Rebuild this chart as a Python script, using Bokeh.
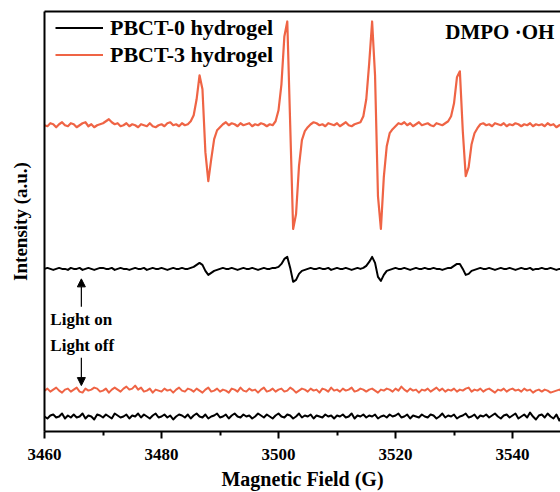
import numpy as np
from bokeh.plotting import figure
from bokeh.models import (Range1d, FixedTicker, LinearAxis, Legend, LegendItem,
                          Label, Arrow, NormalHead, ColumnDataSource)
from bokeh.embed import file_html
from bokeh.resources import INLINE

# ---------------- data ----------------
field_start = 3460.0     # G
field_step = 0.5         # G
n_points = 178
field = [field_start + field_step * i for i in range(n_points)]

# signal deviations (a.u.), one value every 0.5 G from 3460 G
pbct3_light_on = [
    0, -1, 2, 1, -2, 1, 3, 0, -1, 2,
    1, -2, 0, 2, 3, -1, 1, -2, 0, 1,
    2, 4, 6, 3, 1, 2, -1, 0, 2, -1,
    1, 0, -2, 1, 0, -1, 2, -1, -2, 0,
    1, -1, 2, 3, 0, 1, -1, 2, 0, 1,
    4, 10, 26, 50, 36, -27, -56, -34, -14, -5,
    -2, 1, 3, 0, 2, 1, -1, 2, 0, 1,
    2, -1, 1, 0, 2, 1, -1, 1, 0, 4,
    15, 41, 89, 104, 0, -104, -89, -41, -15, -6,
    -2, 1, 3, 2, 0, 1, -1, 2, 1, 0,
    2, -1, 1, 3, 0, -1, 1, 2, 3, 9,
    26, 62, 104, 50, -71, -104, -52, -21, -8, -4,
    -1, 2, 1, 3, 0, 2, -1, 1, 3, 0,
    1, 2, 0, -1, 2, 1, 0, 2, 4, 9,
    22, 48, 54, -6, -51, -42, -19, -8, -3, 1,
    2, 0, 1, -1, 2, 1, 0, 2, -1, 1,
    0, 2, 1, -1, 1, 0, 2, -1, 1, 0,
    1, -1, 2, 0, 1, -2, 0, 1,
]
pbct0_light_on = [
    0, 1, 0, -1, 0, 1, 0, 0, -1, 1,
    0, 0, 1, -1, 0, 1, 0, -1, 0, 1,
    1, 0, 0, 1, -1, 0, 1, 0, 0, -1,
    0, 1, 0, 0, 1, -1, 0, 1, 0, 0,
    1, 0, -1, 0, 1, 0, 0, 1, 0, 0,
    1, 2, 4, 6, 4, -2, -6, -4, -2, -1,
    0, 1, 0, 0, 1, 0, -1, 0, 1, 0,
    0, 1, 0, -1, 0, 1, 0, 0, 1, 1,
    2, 5, 10, 12, 1, -13, -11, -5, -2, -1,
    0, 1, 0, 0, 1, 0, 0, 1, -1, 0,
    1, 0, 0, 1, 0, -1, 0, 1, 0, 1,
    3, 7, 12, 6, -8, -12, -6, -2, -1, 0,
    1, 0, 0, 1, 0, -1, 0, 1, 0, 0,
    1, 0, 0, 1, 0, 0, -1, 0, 1, 1,
    3, 5, 5, 0, -6, -5, -2, -1, 0, 1,
    0, 0, 1, 0, -1, 0, 1, 0, 0, 1,
    0, -1, 0, 1, 0, 0, 1, -1, 0, 0,
    1, 0, 0, 1, 0, -1, 0, 0,
]
pbct3_light_off = [
    0, 2, -1, 1, 3, 0, -2, 1, 2, -1,
    1, 3, -1, -2, 2, 0, 1, 3, 2, -1,
    0, 2, -2, 1, 3, 1, -1, 2, 4, 1,
    2, 5, 1, 3, -1, 0, 2, -2, 1, 0,
    -1, 2, 0, 1, -2, 1, 3, 0, -1, 2,
    1, -1, 2, 0, -2, 1, 3, -1, 0, 2,
    -1, 1, 0, -2, 2, 1, -1, 3, 0, -1,
    2, 0, 1, -2, 1, 3, -1, 0, 2, -1,
    1, 2, -1, 0, 3, 1, -2, 0, 2, 1,
    -1, 2, 0, 1, -2, 2, 1, -1, 3, 0,
    1, -1, 2, 0, 1, 3, -1, 0, 2, 1,
    -1, 1, 2, 0, -2, 1, 0, 2, 1, -1,
    2, 0, 4, 1, -1, 2, 0, 1, -2, 1,
    0, 2, -1, 1, 3, 0, 2, -1, 1, 0,
    2, -1, 1, 0, 2, 3, -1, 1, 0, 2,
    -1, 1, 2, 0, -2, 1, 0, 2, -1, 1,
    2, 0, 1, -1, 2, 0, 1, -2, 0, 1,
    -1, 1, 0, -2, -1, 0, 1, -1,
]
pbct0_light_off = [
    0, -2, 1, 2, -1, 0, 3, -2, 1, -1,
    2, -1, 0, 3, -2, 1, 0, -3, 2, 1,
    -1, 2, 0, -2, 3, 1, -1, 0, 2, -2,
    1, 0, 3, -1, 2, 0, -2, 1, 3, -1,
    0, 2, -1, 1, -3, 0, 2, 1, -1, 2,
    -2, 1, 3, 0, -1, 2, -2, 0, 1, 3,
    -1, 0, 2, -2, 1, 3, 0, -1, 2, 0,
    1, -2, 0, 3, 1, -1, 2, 0, -2, 1,
    3, 0, -1, 2, 1, -2, 0, 3, -1, 1,
    0, 2, -2, 1, 0, -1, 2, 0, 1, -2,
    1, 0, 2, -1, 0, 3, -2, 1, 0, 2,
    -1, 1, 0, 2, -2, 0, 1, -1, 2, 0,
    1, 3, -1, 0, 2, -2, 1, 0, -1, 2,
    0, -1, 2, 1, -2, 0, 3, -1, 1, 0,
    2, -2, 0, 1, 3, -1, 0, 2, -2, 1,
    0, 2, -1, 1, 3, 0, -2, 1, 2, -1,
    1, 3, -2, 0, 2, -1, 4, 0, -3, 1,
    2, -1, 3, 0, -2, 2, -4, 1,
]

# vertical stacking offsets of the four traces
offset_pbct3_on = 307
offset_pbct0_on = 163
offset_pbct3_off = 41
offset_pbct0_off = 15

series_labels = ["PBCT-0 hydrogel", "PBCT-3 hydrogel"]
x_major_ticks = [3460, 3480, 3500, 3520, 3540]
x_minor_ticks = [3470, 3490, 3510, 3530, 3550]

ORANGE = "#EF6445"
BLACK = "#000000"
FONT = "Liberation Serif"

# ---------------- figure ----------------
p = figure(width=560, height=492, output_backend="svg", toolbar_location=None,
           x_range=Range1d(3460, 3548.2), y_range=Range1d(0, 421),
           min_border_left=44, min_border_right=0, min_border_top=11,
           min_border_bottom=60)
p.outline_line_color = None
p.grid.visible = False
p.background_fill_color = "white"
p.border_fill_color = "white"

x = np.array(field)
def src(vals, off):
    return ColumnDataSource(dict(x=x, y=np.array(vals, dtype=float) + off))

r3off = p.line("x", "y", source=src(pbct3_light_off, offset_pbct3_off),
               line_color=ORANGE, line_width=2, line_join="round")
r0off = p.line("x", "y", source=src(pbct0_light_off, offset_pbct0_off),
               line_color=BLACK, line_width=2, line_join="round")
r0on = p.line("x", "y", source=src(pbct0_light_on, offset_pbct0_on),
              line_color=BLACK, line_width=2, line_join="round")
r3on = p.line("x", "y", source=src(pbct3_light_on, offset_pbct3_on),
              line_color=ORANGE, line_width=2.2, line_join="round")

# axes
xa = p.xaxis[0]
xa.ticker = FixedTicker(ticks=x_major_ticks, minor_ticks=x_minor_ticks)
xa.axis_label = "Magnetic Field (G)"
xa.axis_label_text_font = FONT
xa.axis_label_text_font_style = "bold"
xa.axis_label_text_font_size = "20px"
xa.axis_label_text_color = "black"
xa.axis_label_text_line_height = 1.0
xa.axis_label_standoff = 5
xa.major_label_text_font = FONT
xa.major_label_text_font_style = "bold"
xa.major_label_text_font_size = "17px"
xa.major_label_text_color = "black"
xa.major_label_text_line_height = 1.0
xa.major_label_standoff = 10
xa.axis_line_width = 2
xa.axis_line_color = "black"
xa.major_tick_line_width = 2
xa.minor_tick_line_width = 2
xa.major_tick_out = 7
xa.major_tick_in = 0
xa.minor_tick_out = 4
xa.minor_tick_in = 0

ya = p.yaxis[0]
ya.ticker = FixedTicker(ticks=[])
ya.axis_label = "Intensity (a.u.)"
ya.axis_label_text_font = FONT
ya.axis_label_text_font_style = "bold"
ya.axis_label_text_font_size = "19px"
ya.axis_label_text_color = "black"
ya.axis_label_standoff = 14
ya.axis_line_width = 2
ya.axis_line_color = "black"
ya.major_tick_line_color = None
ya.minor_tick_line_color = None
ya.major_label_text_font_size = "0px"

top = LinearAxis(ticker=FixedTicker(ticks=[]), axis_line_width=2,
                 axis_line_color="black",
                 major_tick_line_color=None, minor_tick_line_color=None,
                 major_label_text_font_size="0px")
p.add_layout(top, "above")

# legend
legend = Legend(items=[LegendItem(label=series_labels[0], renderers=[r0on]),
                       LegendItem(label=series_labels[1], renderers=[r3on])],
                location=(11, 363), margin=0, padding=3, spacing=0,
                glyph_width=48, glyph_height=27, label_height=27,
                label_standoff=7, label_text_font=FONT,
                label_text_color="black",
                label_text_font_style="bold", label_text_font_size="22px",
                background_fill_alpha=0, border_line_color=None)
p.add_layout(legend)

# annotations
p.add_layout(Label(x=3528.5, y=400, text="DMPO ·OH", text_font=FONT,
                   text_font_style="bold", text_font_size="21px",
                   text_color="black", text_baseline="middle"))
p.add_layout(Label(x=3461.0, y=112, text="Light on", text_font=FONT,
                   text_font_style="bold", text_font_size="17px",
                   text_color="black", text_baseline="middle"))
p.add_layout(Label(x=3461.0, y=86, text="Light off", text_font=FONT,
                   text_font_style="bold", text_font_size="17px",
                   text_color="black", text_baseline="middle"))
p.add_layout(Arrow(end=NormalHead(size=8, fill_color="black", line_color="black"),
                   x_start=3466.3, y_start=125, x_end=3466.3, y_end=153,
                   line_width=1.2, line_color="black"))
p.add_layout(Arrow(end=NormalHead(size=8, fill_color="black", line_color="black"),
                   x_start=3466.3, y_start=74, x_end=3466.3, y_end=46,
                   line_width=1.2, line_color="black"))

open("out.html", "w").write(file_html(p, INLINE))
